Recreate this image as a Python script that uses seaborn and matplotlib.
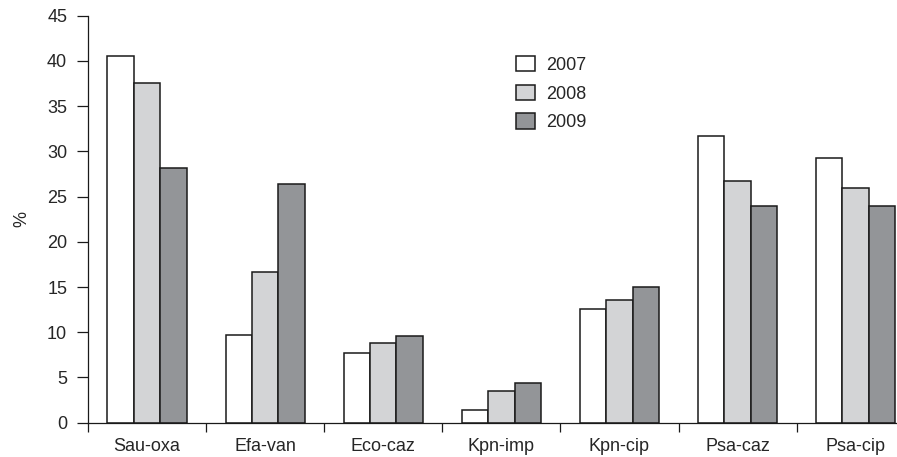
import numpy as np
import pandas as pd
import matplotlib.pyplot as plt
import seaborn as sns

# Datos
categorias = ["Sau-oxa", "Efa-van", "Eco-caz", "Kpn-imp", "Kpn-cip", "Psa-caz", "Psa-cip"]
anios = ["2007", "2008", "2009"]
valores_2007 = [40.5, 9.7, 7.7, 1.4, 12.6, 31.7, 29.3]
valores_2008 = [37.6, 16.7, 8.8, 3.5, 13.6, 26.7, 26.0]
valores_2009 = [28.2, 26.4, 9.6, 4.4, 15.0, 24.0, 24.0]
colores = ["#ffffff", "#d3d4d6", "#939598"]
yticks = list(range(0, 50, 5))

sns.set_style("ticks")
plt.rcParams['font.family'] = ['Liberation Sans', 'DejaVu Sans']

df = pd.DataFrame({
    'categoria': categorias * 3,
    'anio': np.repeat(anios, len(categorias)),
    'valor': valores_2007 + valores_2008 + valores_2009,
})

fig = plt.figure(figsize=(8.97, 4.57), dpi=100)
ax = fig.add_axes([88 / 897, (457 - 422.7) / 457, 826.7 / 897, (422.7 - 15.7) / 457])

sns.barplot(data=df, x='categoria', y='valor', hue='anio', hue_order=anios,
            palette=dict(zip(anios, colores)), width=0.67, gap=0, saturation=1,
            edgecolor='#1a1a1a', linewidth=1.1, errorbar=None, ax=ax)

ax.set_xlim(-0.5, 6.5)
ax.set_ylim(0, 45)
sns.despine(ax=ax)
for s in ['left', 'bottom']:
    ax.spines[s].set_linewidth(0.9)
    ax.spines[s].set_color('#1a1a1a')

# ticks: marcas entre categorias, etiquetas en el centro
ax.set_xticks(np.arange(-0.5, 7, 1))
ax.set_xticklabels([])
ax.set_xticks(range(len(categorias)), minor=True)
ax.set_xticklabels(categorias, minor=True, fontsize=13)
ax.tick_params(axis='x', which='major', length=6.5, width=0.9, color='#1a1a1a')
ax.tick_params(axis='x', which='minor', length=0, pad=11)
ax.set_yticks(yticks)
ax.set_yticklabels([str(v) for v in yticks], fontsize=13)
ax.tick_params(axis='y', length=8, width=0.9, color='#1a1a1a', pad=7)

ax.set_xlabel('')
ax.set_ylabel('%', fontsize=13, labelpad=12)

handles, labels = ax.get_legend_handles_labels()
ax.legend(handles, labels, frameon=False, fontsize=13, loc='upper left',
          bbox_to_anchor=(516 / 897, 1 - 56 / 457), bbox_transform=fig.transFigure,
          borderpad=0, borderaxespad=0, handlelength=1.03, handleheight=0.93,
          handletextpad=0.66, labelspacing=0.6)

fig.savefig('out.png', dpi=100)
